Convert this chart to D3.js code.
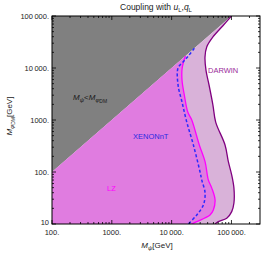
<!DOCTYPE html>
<html>
<head>
<meta charset="utf-8">
<script src="https://cdn.jsdelivr.net/npm/d3@7"></script>
<style>
  body { margin: 0; background: #fff; }
  text { font-family: "Liberation Sans", Arial, sans-serif; }
</style>
</head>
<body>
<svg id="chart" width="262" height="254"></svg>
<script>
// curves: [M_psi, M_phiDM] in GeV (top to bottom)
const darwin = [[100000, 100000], [72000, 65000], [49000, 39500], [38600, 25400], [36100, 16200],
  [37600, 8870], [42200, 4710], [49000, 1940], [54500, 912], [78100, 331], [88700, 158],
  [101000, 87.5], [110000, 49], [110000, 25.3], [101000, 17.3], [83400, 12.9], [60400, 11.1], [53200, 10]];
const lz = [[17000, 17000], [15000, 10000], [14900, 5870], [16300, 3020], [18600, 1425], [21700, 1000],
  [29000, 331], [36200, 158], [41100, 70], [46900, 49], [53200, 29], [49800, 18.6], [43800, 14.9],
  [26300, 11.1], [21700, 10]];
const xenon = [[24000, 24000], [19000, 17000], [15500, 13000], [12800, 10000], [12800, 4710],
  [14900, 2220], [17900, 912], [23100, 331], [29800, 101], [31900, 70], [36200, 39.5],
  [33900, 23.2], [26300, 14.9], [19000, 10]];
const xTicks = [100, 1000, 10000, 100000];
const xTickLabels = ["100.", "1000.", "10\u2009000.", "100\u2009000."];
const yTicks = [10, 100, 1000, 10000, 100000];
const yTickLabels = ["10", "100.", "1000.", "10\u2009000.", "100\u2009000."];

const svg = d3.select('#chart');
const L = 52, R = 260, T = 16, B = 224;
const x = d3.scaleLog().domain([100, 300000]).range([L, R]);
const y = d3.scaleLog().domain([10, 100000]).range([B, T]);

svg.append('clipPath').attr('id', 'clip')
  .append('rect').attr('x', L).attr('y', T).attr('width', R - L).attr('height', B - T);
const g = svg.append('g').attr('clip-path', 'url(#clip)');

const line = d3.line().x(d => x(d[0])).y(d => y(d[1])).curve(d3.curveCatmullRom.alpha(0.5));
// region: left frame, up the diagonal, then down the curve
function region(pts) {
  const p = line(pts).replace(/^M/, 'L');
  return 'M' + x(100) + ',' + y(10) + 'L' + x(100) + ',' + y(100) + p + 'Z';
}

// gray: M_psi < M_phi
g.append('path')
  .attr('d', `M${x(100)},${y(100)}L${x(100000)},${y(100000)}L${x(100)},${y(100000)}Z`)
  .attr('fill', '#808080');
g.append('path').attr('d', region(darwin)).attr('fill', '#d9b2d9');
g.append('path').attr('d', region(lz)).attr('fill', '#e07ce0');

g.append('path').attr('d', line(darwin)).attr('fill', 'none').attr('stroke', '#800080').attr('stroke-width', 1.3);
g.append('path').attr('d', line(lz)).attr('fill', 'none').attr('stroke', '#ff00ff').attr('stroke-width', 1.3);
g.append('path').attr('d', line(xenon)).attr('fill', 'none').attr('stroke', '#2a2aff')
  .attr('stroke-width', 1.5).attr('stroke-dasharray', '3,2.2');

// frame
svg.append('rect').attr('x', L).attr('y', T).attr('width', R - L).attr('height', B - T)
  .attr('fill', 'none').attr('stroke', '#000').attr('stroke-width', 1);

// ticks (all four sides, inside)
const minorX = [], minorY = [];
for (let e = 2; e <= 5; e++) for (let k = 2; k <= 9; k++) { const v = k * 10 ** e; if (v < 300000) minorX.push(v); }
for (let e = 1; e <= 4; e++) for (let k = 2; k <= 9; k++) minorY.push(k * 10 ** e);
const tk = svg.append('g').attr('stroke', '#000').attr('stroke-width', 0.8);
xTicks.forEach(v => {
  tk.append('line').attr('x1', x(v)).attr('x2', x(v)).attr('y1', B).attr('y2', B - 4);
  tk.append('line').attr('x1', x(v)).attr('x2', x(v)).attr('y1', T).attr('y2', T + 4);
});
minorX.forEach(v => {
  tk.append('line').attr('x1', x(v)).attr('x2', x(v)).attr('y1', B).attr('y2', B - 2);
  tk.append('line').attr('x1', x(v)).attr('x2', x(v)).attr('y1', T).attr('y2', T + 2);
});
yTicks.forEach(v => {
  tk.append('line').attr('x1', L).attr('x2', L + 4).attr('y1', y(v)).attr('y2', y(v));
  tk.append('line').attr('x1', R).attr('x2', R - 4).attr('y1', y(v)).attr('y2', y(v));
});
minorY.forEach(v => {
  tk.append('line').attr('x1', L).attr('x2', L + 2).attr('y1', y(v)).attr('y2', y(v));
  tk.append('line').attr('x1', R).attr('x2', R - 2).attr('y1', y(v)).attr('y2', y(v));
});

// tick labels
svg.append('g').selectAll('text').data(xTicks).join('text')
  .attr('x', d => x(d)).attr('y', 235).attr('text-anchor', 'middle')
  .attr('font-size', 7.5).attr('fill', '#222')
  .text((d, i) => xTickLabels[i]);
svg.append('g').selectAll('text').data(yTicks).join('text')
  .attr('x', 49).attr('y', d => y(d) + (d === 10 ? 1 : 3)).attr('text-anchor', 'end')
  .attr('font-size', 7.5).attr('fill', '#222')
  .text((d, i) => yTickLabels[i]);

// title
const title = svg.append('text').attr('x', 156).attr('y', 10).attr('text-anchor', 'middle')
  .attr('font-size', 8.5).attr('fill', '#222');
title.append('tspan').text('Coupling with ');
title.append('tspan').attr('font-style', 'italic').text('u');
title.append('tspan').attr('font-size', 6).attr('dy', 1.5).text('L');
title.append('tspan').attr('dy', -1.5).text(',');
title.append('tspan').attr('font-style', 'italic').text('q');
title.append('tspan').attr('font-size', 6).attr('dy', 1.5).text('L');

// axis labels
const xl = svg.append('text').attr('x', 157).attr('y', 248).attr('text-anchor', 'middle')
  .attr('font-size', 8).attr('fill', '#222');
xl.append('tspan').attr('font-style', 'italic').text('M');
xl.append('tspan').attr('font-style', 'italic').attr('font-size', 6).attr('dy', 1.5).text('\u03c8');
xl.append('tspan').attr('dy', -1.5).text('[GeV]');

const yl = svg.append('text').attr('transform', 'translate(12,116) rotate(-90)').attr('text-anchor', 'middle')
  .attr('font-size', 8).attr('fill', '#222');
yl.append('tspan').attr('font-style', 'italic').text('M');
yl.append('tspan').attr('font-style', 'italic').attr('font-size', 6).attr('dy', 1.5).text('\u03c6');
yl.append('tspan').attr('font-size', 5).attr('dy', 1).text('DM');
yl.append('tspan').attr('dy', -2.5).text('[GeV]');

// region labels
const gl = svg.append('text').attr('x', 73).attr('y', 100).attr('font-size', 8).attr('fill', '#1a1a1a');
gl.append('tspan').attr('font-style', 'italic').text('M');
gl.append('tspan').attr('font-style', 'italic').attr('font-size', 6).attr('dy', 1.5).text('\u03c8');
gl.append('tspan').attr('dy', -1.5).text('<');
gl.append('tspan').attr('font-style', 'italic').text('M');
gl.append('tspan').attr('font-style', 'italic').attr('font-size', 6).attr('dy', 1.5).text('\u03c6');
gl.append('tspan').attr('font-size', 5).attr('dy', 1).text('DM');

svg.append('text').attr('x', 208).attr('y', 73).attr('font-size', 7.5).attr('fill', '#9a2a9a').text('DARWIN');
svg.append('text').attr('x', 133).attr('y', 139).attr('font-size', 7.5).attr('fill', '#2a2ae0').text('XENONnT');
svg.append('text').attr('x', 107).attr('y', 191).attr('font-size', 7.5).attr('fill', '#ff00ff').text('LZ');
</script>
</body>
</html>
